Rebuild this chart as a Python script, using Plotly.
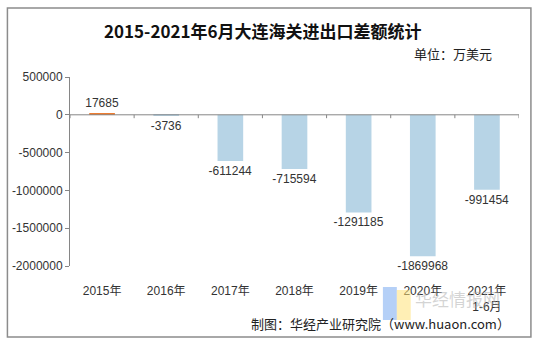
import plotly.graph_objects as go

categories = ["2015年", "2016年", "2017年", "2018年", "2019年", "2020年", "2021年<br>1-6月"]
values = [17685, -3736, -611244, -715594, -1291185, -1869968, -991454]
colors = ["#ED7D31"] + ["#B7D4E6"] * 6
y_ticks = [500000, 0, -500000, -1000000, -1500000, -2000000]

font_family = "Liberation Sans, Arial, Noto Sans CJK SC"

fig = go.Figure()
fig.add_trace(go.Bar(
    x=list(range(len(categories))), y=values,
    marker=dict(color=colors, line=dict(width=0)),
    width=0.4,
    text=[str(v) for v in values], textposition="outside",
    constraintext="none",
    textfont=dict(size=12, color="#333333", family=font_family),
    cliponaxis=False,
))

shapes = []
shapes.append(dict(type="line", xref="paper", yref="y", x0=0, x1=1, y0=0, y1=0,
                   line=dict(color="#868686", width=1)))
for i in range(len(categories) + 1):
    shapes.append(dict(type="line", xref="x", yref="y", x0=i - 0.5, x1=i - 0.5,
                       y0=0, y1=-45000, line=dict(color="#868686", width=1)))
shapes.append(dict(type="rect", xref="paper", yref="paper",
                   x0=-63 / 452, x1=464 / 452, y0=-71 / 189, y1=258 / 189,
                   line=dict(color="#8C8C8C", width=1.5)))
shapes.append(dict(type="rect", xref="paper", yref="paper",
                   x0=(382 - 67) / 452, x1=(396 - 67) / 452, y0=(266 - 320) / 189, y1=(266 - 287) / 189,
                   fillcolor="rgba(120,170,240,0.55)", line=dict(width=0)))
shapes.append(dict(type="rect", xref="paper", yref="paper",
                   x0=(396 - 67) / 452, x1=(410 - 67) / 452, y0=(266 - 320) / 189, y1=(266 - 290) / 189,
                   fillcolor="rgba(255,225,120,0.55)", line=dict(width=0)))

fig.update_layout(
    width=536, height=343,
    margin=dict(l=67, r=17, t=77, b=77),
    paper_bgcolor="white", plot_bgcolor="white",
    showlegend=False,
    shapes=shapes,
    font=dict(family=font_family, color="#333333", size=12),
    xaxis=dict(
        tickmode="array", tickvals=list(range(len(categories))), ticktext=categories,
        range=[-0.5, len(categories) - 0.5],
        showline=False, showgrid=False, zeroline=False, ticks="",
        ticklabelstandoff=16,
        tickfont=dict(size=12, color="#333333"),
    ),
    yaxis=dict(
        range=[-2000000, 500000], tickmode="array", tickvals=y_ticks,
        ticktext=[str(v) for v in y_ticks],
        showline=True, linecolor="#868686", linewidth=1,
        ticks="outside", ticklen=4, tickcolor="#868686",
        showgrid=False, zeroline=False,
        tickfont=dict(size=12, color="#333333"),
    ),
    annotations=[
        dict(text="<b>2015-2021年6月大连海关进出口差额统计</b>", xref="paper", yref="paper",
             x=(261 - 67) / 452, y=(266 - 30) / 189, xanchor="center", yanchor="middle",
             showarrow=False, font=dict(size=17, color="#111111", family="Noto Sans CJK SC")),
        dict(text="单位：万美元", xref="paper", yref="paper",
             x=(494 - 67) / 452, y=(266 - 53) / 189, xanchor="right", yanchor="middle",
             showarrow=False, font=dict(size=13, color="#222222", family="Noto Sans CJK SC")),
        dict(text="华经情报网", xref="paper", yref="paper",
             x=(412 - 67) / 452, y=(266 - 298) / 189, xanchor="left", yanchor="middle",
             showarrow=False, font=dict(size=17, color="rgba(170,170,170,0.5)", family="Noto Sans CJK SC")),
        dict(text="制图：华经产业研究院（www.huaon.com）", xref="paper", yref="paper",
             x=(512 - 67) / 452, y=(266 - 323) / 189, xanchor="right", yanchor="middle",
             showarrow=False, font=dict(size=13, color="#222222", family="Noto Sans CJK SC")),
    ],
)

fig.write_html("out.html")
